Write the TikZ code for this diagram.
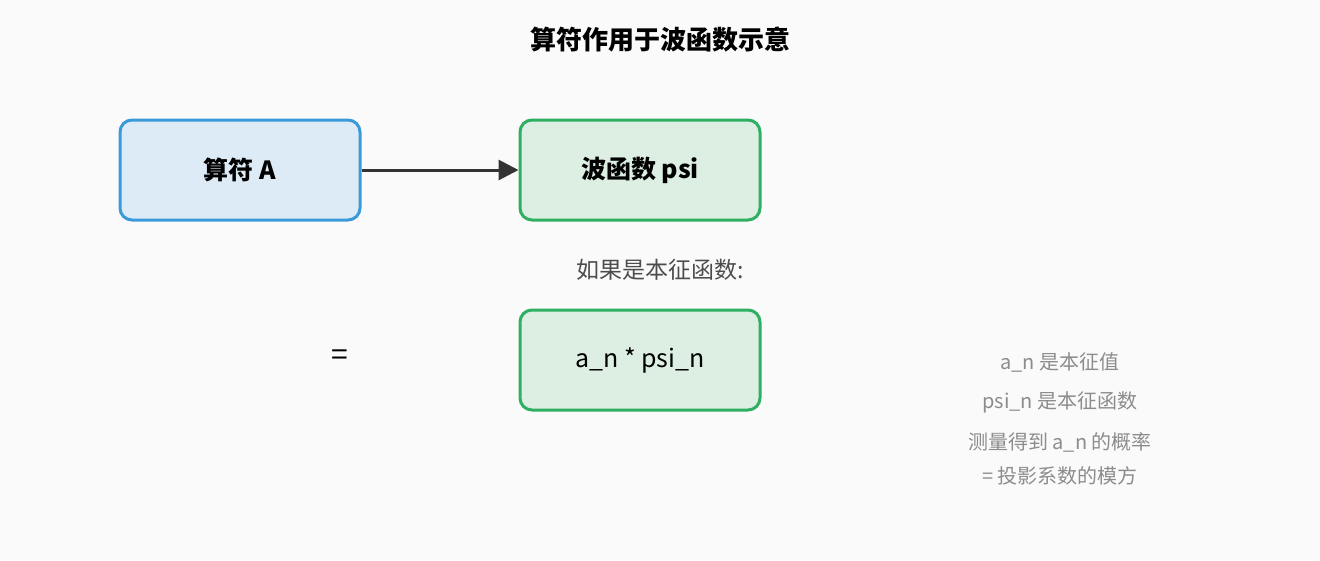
\documentclass[tikz,border=0pt]{standalone}
\usepackage{fontspec}
\setmainfont{Noto Sans CJK SC}
\usetikzlibrary{arrows.meta}
\definecolor{bg}{HTML}{FAFAFA}
\definecolor{bb}{HTML}{3A9AD9}\definecolor{bf}{HTML}{DDEBF7}
\definecolor{gb}{HTML}{2EAF62}\definecolor{gf}{HTML}{DCEFE2}
\begin{document}
\begin{tikzpicture}[x=1pt,y=-1pt,
 box/.style={draw,line width=3pt,rounded corners=12pt,minimum width=240pt,minimum height=100pt,font=\fontsize{25}{30}\selectfont},
 note/.style={text=gray!90,font=\fontsize{20}{24}\selectfont}]
\fill[bg] (0,0) rectangle (1320,560);
\useasboundingbox (0,0) rectangle (1320,560);
\node[font=\fontsize{26}{30}\selectfont\bfseries] (t) at (660,40) {算符作用于波函数示意};
\node[box,draw=bb,fill=bf,font=\fontsize{25}{30}\selectfont\bfseries] (a) at (240,170) {算符 A};
\node[box,draw=gb,fill=gf,font=\fontsize{25}{30}\selectfont\bfseries] (p) at (640,170) {波函数 psi};
\draw[line width=3pt,draw=black!80,-{Triangle[length=20pt,width=20pt]}] (a) -- (p);
\node[text=black!70,font=\fontsize{23}{28}\selectfont] (c) at (660,270) {如果是本征函数:};
\node[font=\fontsize{30}{34}\selectfont] (eq) at (340,358) {=};
\node[box,draw=gb,fill=gf] (r) at (640,360) {a\_n * psi\_n};
\node[note] (n1) at (1060,362) {a\_n 是本征值};
\node[note] (n2) at (1060,402) {psi\_n 是本征函数};
\node[note] (n3) at (1060,442) {测量得到 a\_n 的概率};
\node[note] (n4) at (1060,476) {= 投影系数的模方};
\end{tikzpicture}
\end{document}
